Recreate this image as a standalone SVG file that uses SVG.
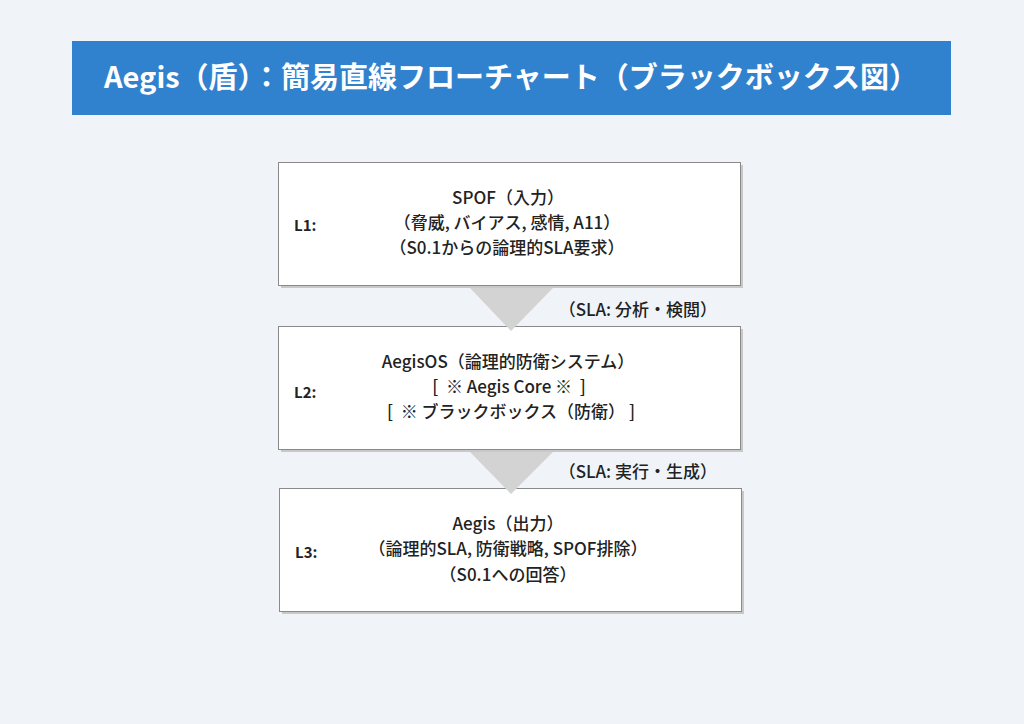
<svg xmlns="http://www.w3.org/2000/svg" width="1024" height="724" viewBox="0 0 1024 724">
<style>
.t{font-family:"Noto Sans CJK JP","Noto Sans",sans-serif;fill:#222;white-space:pre;}
.title{font-size:29px;font-weight:700;fill:#fff;}
.body{font-size:17px;font-weight:500;text-anchor:middle;}
.lab{font-size:15px;font-weight:700;}
.edge{font-size:17px;font-weight:500;text-anchor:end;}
.box{fill:#fff;stroke:#8a8a8a;stroke-width:1;}
.shadow{fill:#c8c8c8;}
.arrow{fill:#d3d3d3;}
</style>
<rect width="1024" height="724" fill="#F0F4F8"/>
<g id="title">
<rect x="72" y="41" width="879" height="74" fill="#3182CE"/>
<text class="t title" x="511" y="88" text-anchor="middle">Aegis（盾）：簡易直線フローチャート（ブラックボックス図）</text>
</g>
<g id="node1">
<rect class="shadow" x="281" y="165" width="462" height="123"/>
<rect class="box" x="278.5" y="162.5" width="462" height="123"/>
<text class="t lab" x="294" y="231">L1:</text>
<text class="t body" x="508" y="204">SPOF（入力）</text>
<text class="t body" x="507" y="229">（脅威, バイアス, 感情, A11）</text>
<text class="t body" x="507" y="254">（S0.1からの論理的SLA要求）</text>
</g>
<g id="node2">
<rect class="shadow" x="281" y="329" width="462" height="123"/>
<rect class="box" x="278.5" y="326.5" width="462" height="123"/>
<text class="t lab" x="294" y="398">L2:</text>
<text class="t body" x="508" y="368">AegisOS（論理的防衛システム）</text>
<text class="t body" x="509" y="393">[  ※ Aegis Core ※  ]</text>
<text class="t body" x="511" y="418">[  ※ ブラックボックス（防衛） ]</text>
</g>
<g id="node3">
<rect class="shadow" x="282" y="491" width="462" height="123"/>
<rect class="box" x="279.5" y="488.5" width="462" height="123"/>
<text class="t lab" x="295" y="558">L3:</text>
<text class="t body" x="508" y="530">Aegis（出力）</text>
<text class="t body" x="508" y="555">（論理的SLA, 防衛戦略, SPOF排除）</text>
<text class="t body" x="508" y="581">（S0.1への回答）</text>
</g>
<g id="connectors">
<polygon class="arrow" points="470,288 553,288 511,331"/>
<text class="t edge" x="717" y="316">（SLA: 分析・検閲）</text>
<polygon class="arrow" points="470,452 553,452 511,494"/>
<text class="t edge" x="717" y="478">（SLA: 実行・生成）</text>
</g>
</svg>
